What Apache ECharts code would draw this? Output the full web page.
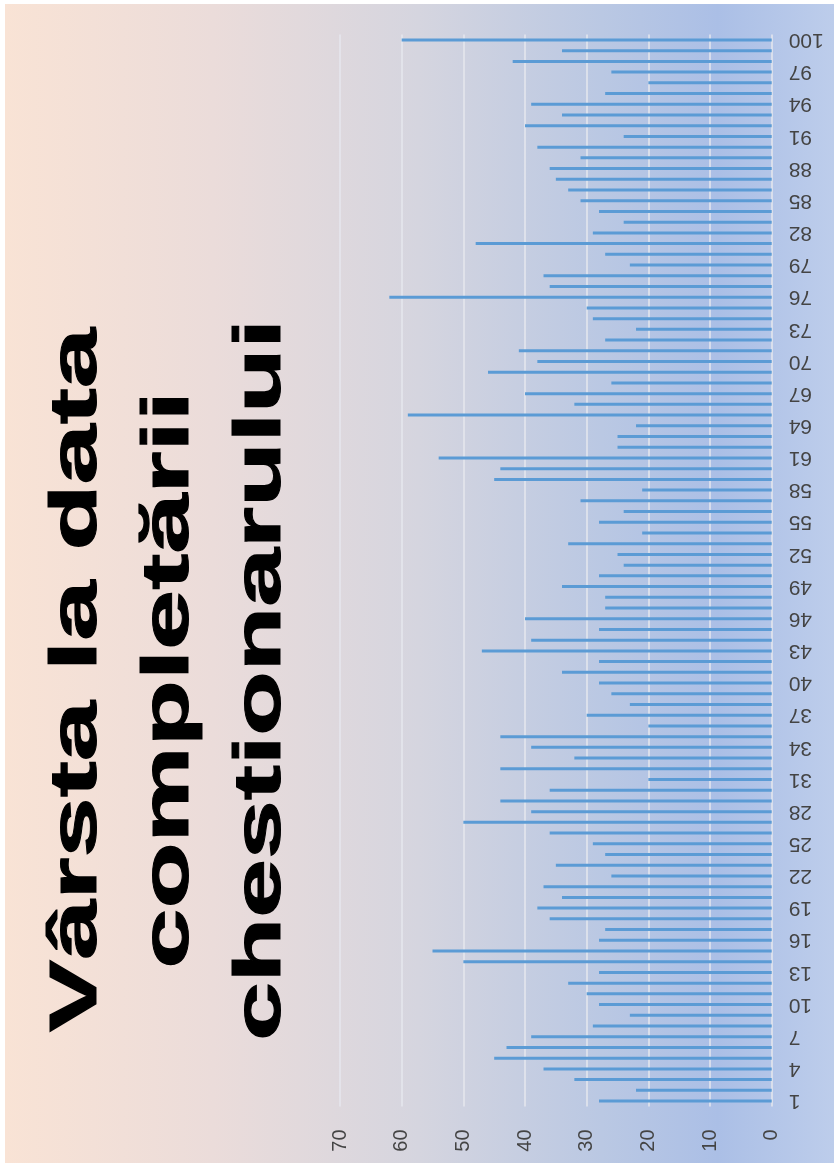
<!DOCTYPE html>
<html>
<head>
<meta charset="utf-8">
<title>Vârsta la data completării chestionarului</title>
<script src="https://cdn.jsdelivr.net/npm/echarts@6/dist/echarts.min.js"></script>
<style>
  html, body { margin: 0; padding: 0; background: #ffffff; }
  #chart { width: 838px; height: 1167px; }
</style>
</head>
<body>
<div id="chart"></div>
<script>
// Respondent numbers (1..100)
var respondents = [];
for (var i = 1; i <= 100; i++) respondents.push(String(i));

// Age of each respondent at the time the questionnaire was filled in
var ages = [
  28, 22, 32, 37, 45, 43, 39, 29, 23, 28,
  30, 33, 28, 50, 55, 28, 27, 36, 38, 34,
  37, 26, 35, 27, 29, 36, 50, 39, 44, 36,
  20, 44, 32, 39, 44, 20, 30, 23, 26, 28,
  34, 28, 47, 39, 28, 40, 27, 27, 34, 28,
  24, 25, 33, 21, 28, 24, 31, 21, 45, 44,
  54, 25, 25, 22, 59, 32, 40, 26, 46, 38,
  41, 27, 22, 29, 30, 62, 36, 37, 23, 27,
  48, 29, 24, 28, 31, 33, 35, 36, 31, 38,
  24, 40, 34, 39, 27, 20, 26, 42, 34, 60
];

// Value axis ticks
var ageMin = 0;
var ageMax = 70;
var ageStep = 10;

// Title lines
var titleLines = ['Vârsta la data', 'completării', 'chestionarului'];

var FONT = '"Liberation Sans", Arial, sans-serif';
var titleX = [78, 170, 262];
var titleScale = [1.64, 1.64, 1.6];

var graphics = [{
  type: 'rect',
  z: -10,
  silent: true,
  shape: { x: 5, y: 4, width: 829, height: 1159 },
  style: {
    fill: {
      type: 'linear', x: 0, y: 0, x2: 1, y2: 0,
      colorStops: [
        { offset: 0, color: '#f9e3d5' },
        { offset: 0.25, color: '#ebdcda' },
        { offset: 0.5, color: '#d5d5df' },
        { offset: 0.72, color: '#bac8e3' },
        { offset: 0.86, color: '#abbfe6' },
        { offset: 1, color: '#bdcdeb' }
      ]
    }
  }
}];

titleLines.forEach(function (line, k) {
  graphics.push({
    type: 'text',
    x: titleX[k],
    y: 680,
    rotation: Math.PI / 2,
    scaleX: titleScale[k],
    z: 10,
    style: {
      text: line,
      font: 'bold 66px ' + FONT,
      fill: '#000000',
      stroke: '#000000',
      lineWidth: 1,
      align: 'center',
      verticalAlign: 'middle'
    }
  });
});

var chart = echarts.init(document.getElementById('chart'), null, { renderer: 'canvas' });
chart.setOption({
  backgroundColor: 'transparent',
  animation: false,
  graphic: graphics,
  grid: { left: 340, right: 66.3, top: 34.6, bottom: 60.6, containLabel: false },
  xAxis: {
    type: 'value',
    inverse: true,
    position: 'bottom',
    min: ageMin,
    max: ageMax,
    interval: ageStep,
    axisLine: { show: false },
    axisTick: { show: false },
    axisLabel: {
      rotate: 90,
      margin: 23,
      fontSize: 20,
      fontFamily: FONT,
      color: '#444444'
    },
    splitLine: { show: true, lineStyle: { color: '#e6e7ee', width: 1.5 } }
  },
  yAxis: {
    type: 'category',
    position: 'right',
    data: respondents,
    axisLine: { show: false },
    axisTick: { show: false },
    axisLabel: {
      interval: 2,
      rotate: 180,
      margin: 17,
      fontSize: 21,
      fontFamily: FONT,
      color: '#444444'
    },
    splitLine: { show: false }
  },
  series: [{
    type: 'bar',
    data: ages,
    barWidth: 3,
    itemStyle: { color: '#5b9bd5' }
  }]
});
</script>
</body>
</html>
